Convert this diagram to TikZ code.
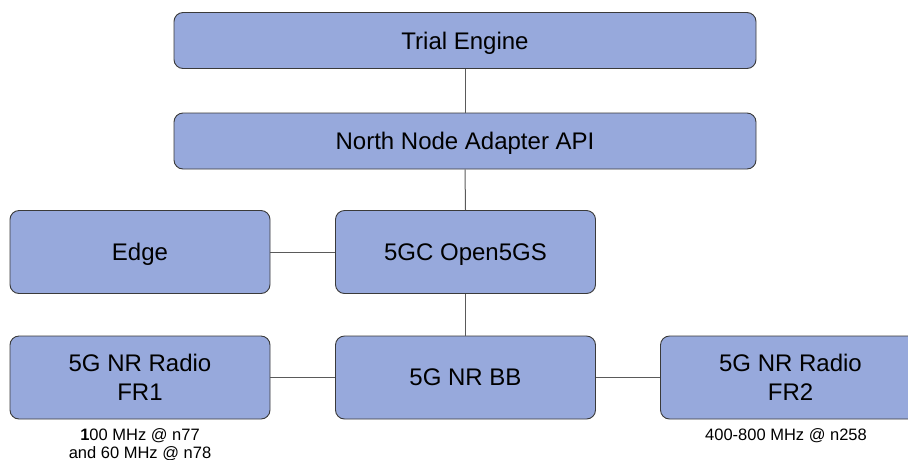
\documentclass[tikz,border=0pt]{standalone}
\usepackage{fontspec}
\setmainfont{Liberation Sans}
\definecolor{boxfill}{HTML}{97A9DC}
\definecolor{boxline}{HTML}{3A3A3A}
\definecolor{wire}{HTML}{5A5A5A}
\begin{document}
\begin{tikzpicture}[x=1pt,y=-1pt,
  block/.style={draw=boxline, line width=0.9pt, fill=boxfill, rounded corners=9pt,
    inner sep=0pt, align=center, text depth=0pt, font=\fontsize{24}{29}\selectfont},
  wide/.style={block, minimum width=582pt, minimum height=56pt},
  unit/.style={block, minimum width=260pt, minimum height=83pt},
  link/.style={draw=wire, line width=1pt},
  note/.style={align=center, font=\fontsize{16.5}{18}\selectfont, inner sep=0pt, anchor=north}]
  \clip (0,0) rectangle (908,459);
  \useasboundingbox (0,0) rectangle (908,459);
  \node[wide] (trial) at (465,40.5) {Trial Engine};
  \node[wide] (north) at (465,141) {North Node Adapter API};
  \node[unit] (edge) at (140,252) {Edge};
  \node[unit] (core) at (465.5,252) {5GC Open5GS};
  \node[unit] (fr1) at (140,377.5) {5G NR Radio\\FR1};
  \node[unit] (bb) at (465.5,377.5) {5G NR BB};
  \node[unit] (fr2) at (790.5,377.5) {5G NR Radio\\FR2};
  \node[note] (fr1note) at (140,428) {\textbf{1}00 MHz @ n77\\and 60 MHz @ n78};
  \node[note] (fr2note) at (786,428) {400-800 MHz @ n258};
  \draw[link] (trial.south) -- (north.north);
  \draw[link] (north.south) -- (core.north);
  \draw[link] (edge.east) -- (core.west);
  \draw[link] (core.south) -- (bb.north);
  \draw[link] (fr1.east) -- (bb.west);
  \draw[link] (bb.east) -- (fr2.west);
\end{tikzpicture}
\end{document}
